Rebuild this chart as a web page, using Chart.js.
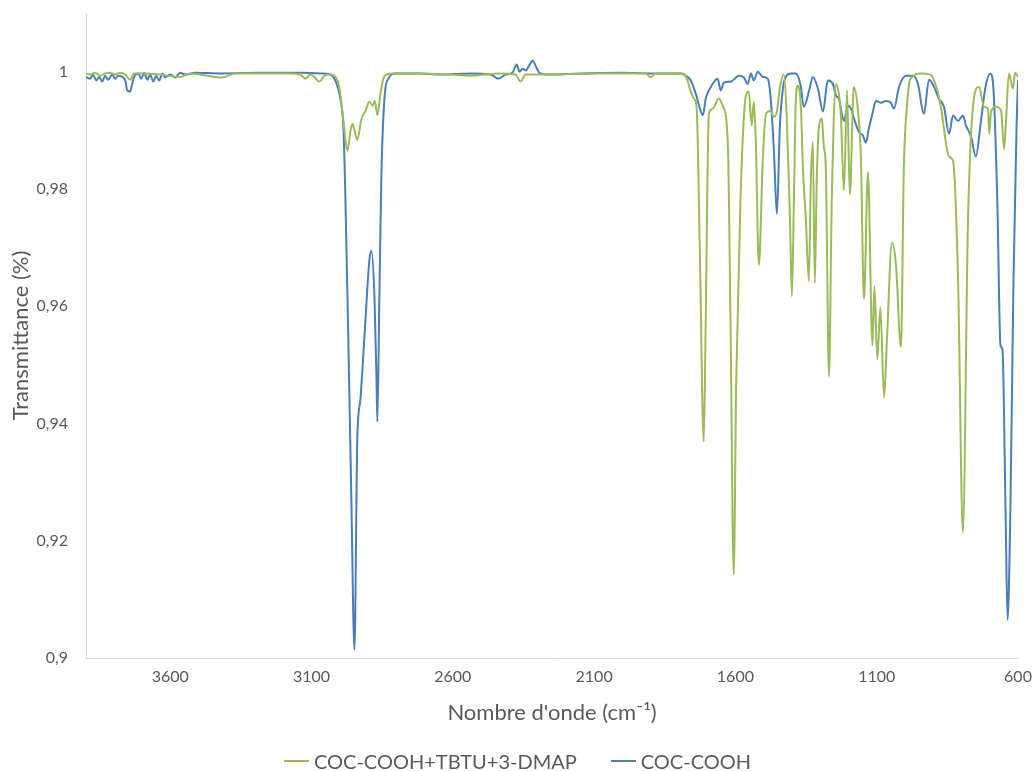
<!DOCTYPE html>
<html>
<head>
<meta charset="utf-8">
<script src="https://cdn.jsdelivr.net/npm/chart.js@4.4.1/dist/chart.umd.min.js"></script>
<style>
  html, body { margin: 0; padding: 0; background: #fff; }
  #wrap { position: relative; width: 1035px; height: 771px; }
  #legende {
    position: absolute; left: 0; top: 749px; width: 1035px;
    display: flex; justify-content: center; align-items: center;
    font-family: Lato, "Open Sans", sans-serif; font-size: 20px; color: #595959;
  }
  .item { display: flex; align-items: center; margin: 0 17px; }
  .trait { width: 25px; height: 2px; margin-right: 5px; }
</style>
</head>
<body>
<div id="wrap">
  <canvas id="spectre" width="1035" height="771"></canvas>
  <div id="legende"></div>
</div>
<script>
const seriesNames = ['COC-COOH+TBTU+3-DMAP', 'COC-COOH'];
const seriesColors = ['#9BBB59', '#4A7EBB'];
const xTicks = [3600, 3100, 2600, 2100, 1600, 1100, 600];
const yTicks = [0.9, 0.92, 0.94, 0.96, 0.98, 1];

// COC-COOH+TBTU+3-DMAP
const wnGreen = [3898, 3883, 3866, 3848, 3830, 3813, 3795, 3777, 3759, 3742, 3728, 3689, 3635, 3565, 3529, 3416, 3370, 3281, 3175, 3139,
  3122, 3104, 3090, 3072, 3054, 3033, 3015, 3001, 2987, 2973, 2962, 2955, 2945, 2938, 2923, 2909, 2895, 2884, 2876, 2867,
  2856, 2846, 2835, 2814, 2716, 2610, 2539, 2433, 2378, 2360, 2343, 2272, 2077, 1917, 1900, 1882, 1786, 1772, 1758, 1747,
  1737, 1726, 1712, 1705, 1694, 1680, 1659, 1645, 1627, 1617, 1606, 1597, 1582, 1563, 1553, 1542, 1535, 1528, 1517, 1503,
  1492, 1475, 1464, 1453, 1443, 1429, 1418, 1407, 1400, 1393, 1386, 1379, 1368, 1361, 1351, 1340, 1333, 1326, 1319, 1312,
  1305, 1294, 1287, 1280, 1269, 1259, 1252, 1244, 1234, 1227, 1216, 1205, 1195, 1181, 1167, 1156, 1145, 1131, 1115, 1108,
  1098, 1087, 1074, 1064, 1046, 1032, 1014, 1004, 993, 982, 943, 910, 887, 873, 844, 830, 812, 795, 777, 756,
  738, 720, 706, 702, 695, 678, 660, 649, 642, 632, 618, 610, 600];
const tGreen = [0.9997, 0.9995, 0.9998, 0.9993, 0.9997, 0.9998, 0.9995, 0.9998, 0.9995, 0.9986, 0.9997, 0.9997, 0.9995, 0.9991, 0.9997, 0.9990, 0.9997, 0.9997, 0.9997, 0.9995,
  0.9988, 0.9995, 0.9991, 0.9983, 0.9993, 0.9995, 0.9991, 0.9971, 0.9916, 0.9865, 0.9899, 0.9911, 0.9894, 0.9884, 0.9920, 0.9933, 0.9949, 0.9942, 0.9950, 0.9926,
  0.9962, 0.9988, 0.9995, 0.9997, 0.9997, 0.9995, 0.9993, 0.9997, 0.9995, 0.9983, 0.9995, 0.9995, 0.9997, 0.9997, 0.9990, 0.9997, 0.9997, 0.9988, 0.9966, 0.9954,
  0.9937, 0.9697, 0.9369, 0.9578, 0.9928, 0.9937, 0.9954, 0.9942, 0.9880, 0.9560, 0.9142, 0.9475, 0.9783, 0.9959, 0.9966, 0.9908, 0.9949, 0.9885, 0.9670, 0.9851,
  0.9928, 0.9933, 0.9923, 0.9932, 0.9971, 0.9995, 0.9920, 0.9749, 0.9617, 0.9783, 0.9954, 0.9976, 0.9937, 0.9834, 0.9752, 0.9643, 0.9817, 0.9880, 0.9639, 0.9817,
  0.9903, 0.9920, 0.9872, 0.9836, 0.9480, 0.9783, 0.9921, 0.9979, 0.9962, 0.9928, 0.9797, 0.9968, 0.9790, 0.9974, 0.9937, 0.9855, 0.9612, 0.9829, 0.9533, 0.9634,
  0.9509, 0.9598, 0.9444, 0.9540, 0.9708, 0.9672, 0.9530, 0.9836, 0.9940, 0.9986, 0.9997, 0.9995, 0.9971, 0.9940, 0.9855, 0.9848, 0.9644, 0.9214, 0.9744, 0.9954,
  0.9974, 0.9940, 0.9937, 0.9894, 0.9933, 0.9940, 0.9933, 0.9868, 0.9920, 0.9997, 0.9971, 0.9998, 0.9991];

// COC-COOH
const wnBlue = [3898, 3883, 3873, 3862, 3851, 3841, 3830, 3820, 3805, 3795, 3784, 3770, 3759, 3752, 3742, 3735, 3728, 3713, 3703, 3692,
  3681, 3671, 3660, 3650, 3639, 3628, 3618, 3600, 3582, 3565, 3547, 3511, 3423, 3281, 3139, 3069, 3033, 3016, 2998, 2987,
  2980, 2969, 2959, 2948, 2938, 2927, 2909, 2895, 2888, 2877, 2870, 2867, 2860, 2853, 2842, 2828, 2803, 2716, 2643, 2537,
  2466, 2438, 2413, 2389, 2374, 2364, 2353, 2342, 2328, 2318, 2307, 2293, 2254, 2148, 2006, 1900, 1793, 1776, 1758, 1740,
  1723, 1715, 1705, 1687, 1663, 1652, 1641, 1616, 1588, 1570, 1556, 1545, 1535, 1521, 1503, 1486, 1475, 1464, 1453, 1443,
  1432, 1422, 1404, 1386, 1369, 1358, 1340, 1326, 1308, 1290, 1273, 1255, 1244, 1234, 1216, 1202, 1191, 1181, 1163, 1149,
  1138, 1128, 1115, 1103, 1085, 1067, 1050, 1039, 1021, 996, 972, 954, 933, 915, 897, 880, 862, 844, 830, 812,
  795, 784, 766, 749, 733, 715, 698, 687, 673, 662, 655, 644, 637, 627, 616, 605, 600];
const tBlue = [0.9991, 0.9988, 0.9995, 0.9985, 0.9991, 0.9983, 0.9993, 0.9986, 0.9995, 0.9988, 0.9993, 0.9991, 0.9985, 0.9968, 0.9966, 0.9978, 0.9991, 0.9997, 0.9988, 0.9998,
  0.9986, 0.9995, 0.9983, 0.9993, 0.9985, 0.9997, 0.9990, 0.9995, 0.9990, 0.9998, 0.9995, 0.9998, 0.9997, 0.9998, 0.9998, 0.9997, 0.9995, 0.9985, 0.9954, 0.9903,
  0.9783, 0.9526, 0.9270, 0.9014, 0.9373, 0.9441, 0.9578, 0.9680, 0.9694, 0.9612, 0.9475, 0.9403, 0.9612, 0.9817, 0.9954, 0.9988, 0.9997, 0.9997, 0.9995, 0.9997,
  0.9995, 0.9988, 0.9995, 0.9998, 1.0012, 1.0000, 1.0005, 1.0002, 1.0012, 1.0019, 1.0010, 0.9998, 0.9995, 0.9997, 0.9998, 0.9997, 0.9997, 0.9993, 0.9985, 0.9962,
  0.9933, 0.9926, 0.9954, 0.9974, 0.9988, 0.9968, 0.9981, 0.9983, 0.9993, 0.9990, 0.9979, 0.9997, 0.9985, 1.0000, 0.9991, 0.9988, 0.9954, 0.9868, 0.9757, 0.9903,
  0.9971, 0.9991, 0.9997, 0.9997, 0.9976, 0.9940, 0.9966, 0.9991, 0.9971, 0.9932, 0.9985, 0.9979, 0.9959, 0.9954, 0.9916, 0.9942, 0.9937, 0.9921, 0.9897, 0.9891,
  0.9879, 0.9903, 0.9928, 0.9950, 0.9947, 0.9950, 0.9947, 0.9937, 0.9974, 0.9993, 0.9993, 0.9979, 0.9928, 0.9986, 0.9974, 0.9954, 0.9940, 0.9894, 0.9925, 0.9916,
  0.9925, 0.9908, 0.9889, 0.9855, 0.9908, 0.9974, 0.9997, 0.9971, 0.9776, 0.9533, 0.9526, 0.9251, 0.9065, 0.9251, 0.9644, 0.9908, 0.9986];

const toPoints = (xs, ys) => xs.map((x, i) => ({ x: x, y: ys[i] }));

const textColor = '#595959';
const fontFamily = 'Lato, "Open Sans", sans-serif';
const clear = 'rgba(0,0,0,0)';

const ctx = document.getElementById('spectre').getContext('2d');
const chart = new Chart(ctx, {
  type: 'line',
  data: {
    datasets: [{
      label: seriesNames[0],
      data: toPoints(wnGreen, tGreen),
      borderColor: seriesColors[0],
      backgroundColor: seriesColors[0],
      borderWidth: 2,
      pointRadius: 0,
      cubicInterpolationMode: 'monotone'
    }, {
      label: seriesNames[1],
      data: toPoints(wnBlue, tBlue),
      borderColor: seriesColors[1],
      backgroundColor: seriesColors[1],
      borderWidth: 2,
      pointRadius: 0,
      cubicInterpolationMode: 'monotone'
    }]
  },
  options: {
    responsive: false,
    animation: false,
    layout: {
      padding: { top: 13, right: 17, left: 0, bottom: 0 }
    },
    scales: {
      x: {
        type: 'linear',
        reverse: true,
        min: 600,
        max: 3898,
        // invisible tick marks only push the labels away from the axis
        grid: { display: true, drawOnChartArea: false, drawTicks: true, tickLength: 9, color: clear },
        border: { display: true, color: '#D9D9D9', width: 1 },
        afterBuildTicks: (scale) => { scale.ticks = xTicks.map(v => ({ value: v })); },
        afterFit: (scale) => { scale.height = 113; },
        ticks: {
          color: textColor,
          font: { family: fontFamily, size: 16 },
          padding: 0,
          maxRotation: 0,
          autoSkip: false,
          callback: (v) => String(v)
        },
        title: {
          display: true,
          text: "Nombre d'onde (cm\u207B\u00B9)",
          color: textColor,
          font: { family: fontFamily, size: 22 },
          padding: { top: 4, bottom: 45 }
        }
      },
      y: {
        min: 0.9,
        max: 1.01,
        grid: { display: true, drawOnChartArea: false, drawTicks: true, tickLength: 18, color: clear },
        border: { display: true, color: '#D9D9D9', width: 1 },
        afterBuildTicks: (scale) => { scale.ticks = yTicks.map(v => ({ value: v })); },
        afterFit: (scale) => { scale.width = 86; },
        ticks: {
          color: textColor,
          font: { family: fontFamily, size: 16 },
          padding: 0,
          callback: (v) => String(Math.round(v * 100) / 100).replace('.', ',')
        },
        title: {
          display: true,
          text: 'Transmittance (%)',
          color: textColor,
          font: { family: fontFamily, size: 22 },
          padding: { top: 8, bottom: 4 }
        }
      }
    },
    plugins: {
      legend: { display: false },
      tooltip: { enabled: false }
    }
  }
});

// legend built from the chart datasets
const legende = document.getElementById('legende');
chart.data.datasets.forEach(ds => {
  const item = document.createElement('div');
  item.className = 'item';
  const trait = document.createElement('span');
  trait.className = 'trait';
  trait.style.background = ds.borderColor;
  const txt = document.createElement('span');
  txt.textContent = ds.label;
  item.appendChild(trait);
  item.appendChild(txt);
  legende.appendChild(item);
});
</script>
</body>
</html>
